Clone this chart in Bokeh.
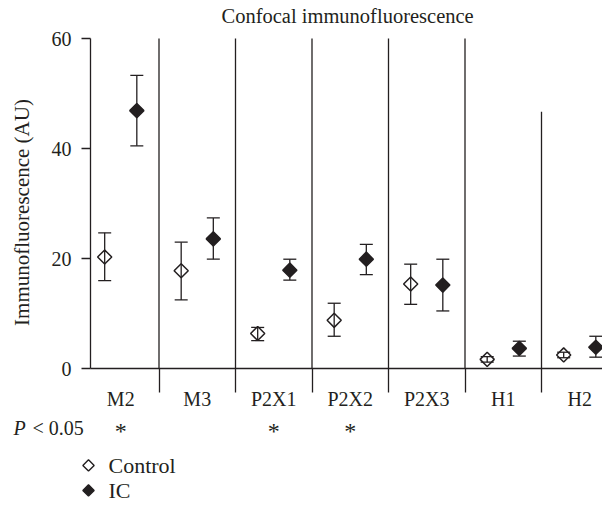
import math
from bokeh.plotting import figure
from bokeh.models import Range1d, LinearAxis, FixedTicker, Whisker, TeeHead, ColumnDataSource
from bokeh.core.properties import value
from bokeh.embed import file_html
from bokeh.resources import INLINE

# ---------------- data ----------------
categories = ["M2", "M3", "P2X1", "P2X2", "P2X3", "H1", "H2"]
control_mean = [20.3, 17.8, 6.4, 8.8, 15.4, 1.7, 2.5]
control_upper = [24.7, 23.0, 7.5, 11.9, 19.0, 2.2, 3.0]
control_lower = [16.0, 12.5, 5.1, 5.9, 11.7, 1.2, 2.0]
ic_mean = [46.9, 23.6, 17.9, 19.9, 15.2, 3.7, 3.9]
ic_upper = [53.3, 27.4, 19.9, 22.6, 19.9, 5.0, 5.9]
ic_lower = [40.5, 19.9, 16.1, 17.1, 10.5, 2.3, 2.1]
significant = [True, False, True, True, False, False, False]
y_ticks = [0, 20, 40, 60]
series_names = ["Control", "IC"]

# ---------------- layout constants ----------------
FONT = "Liberation Serif"
INK = "#231f20"
W, H = 602, 507
PX_X = 76.5        # pixels per category band
PX_Y = 5.492       # pixels per AU
AXIS_PX = 90       # pixel x of the y axis
BAND0_PX = 82      # pixel x where the first band starts
Y60 = 39           # pixel y of value 60
FRAME_TOP = 29     # height of the title panel

x_start = -BAND0_PX / PX_X
x_end = x_start + W / PX_X
axis_x = (AXIS_PX - BAND0_PX) / PX_X
y_end = 60 + (Y60 - FRAME_TOP) / PX_Y
y_start = 60 - (H - Y60) / PX_Y

def fx(px):
    return x_start + px / PX_X

def fy(py):
    return 60 - (py - Y60) / PX_Y

n = len(categories)
centers = [i + 0.5 for i in range(n)]
boundaries = [i for i in range(1, n)]
divider_tops = [60] * (n - 2) + [46.7]
DODGE = 0.21

p = figure(width=W, height=H, x_range=Range1d(x_start, x_end), y_range=Range1d(y_start, y_end),
           output_backend="svg", toolbar_location=None, x_axis_type=None, y_axis_type=None,
           min_border=0, outline_line_color=None,
           title="Confocal immunofluorescence")
p.title.text_font = FONT
p.title.text_font_size = "20.5px"
p.title.text_font_style = "normal"
p.title.text_color = INK
p.title.align = "left"
p.title.offset = 221
p.title.standoff = 4

# y axis (ticks + labels) drawn at the left edge of the first band
yaxis = LinearAxis(fixed_location=axis_x, bounds=(0, 60),
                   ticker=FixedTicker(ticks=y_ticks, minor_ticks=[]))
yaxis.major_tick_out = 9
yaxis.major_tick_in = 0
yaxis.minor_tick_out = 0
yaxis.minor_tick_in = 0
yaxis.axis_line_color = INK
yaxis.axis_line_width = 1.3
yaxis.major_tick_line_color = INK
yaxis.major_tick_line_width = 1.3
yaxis.major_label_text_font = FONT
yaxis.major_label_text_font_size = "20px"
yaxis.major_label_text_color = INK
yaxis.major_label_standoff = 10
p.add_layout(yaxis, "left")

# y axis title (separate axis so it can be centred like the reference)
ylab = LinearAxis(fixed_location=axis_x, bounds=(-3.3, 60),
                  ticker=FixedTicker(ticks=[], minor_ticks=[]),
                  axis_label="Immunofluorescence (AU)")
ylab.axis_line_color = None
ylab.major_tick_line_color = None
ylab.minor_tick_line_color = None
ylab.major_label_text_font_size = "0px"
ylab.axis_label_text_font = FONT
ylab.axis_label_text_font_size = "21px"
ylab.axis_label_text_font_style = "normal"
ylab.axis_label_text_color = INK
ylab.axis_label_standoff = 57
p.add_layout(ylab, "left")

# x axis at y = 0
xaxis = LinearAxis(fixed_location=0, bounds=(axis_x, x_end),
                   ticker=FixedTicker(ticks=centers, minor_ticks=boundaries),
                   major_label_overrides={c: name for c, name in zip(centers, categories)})
xaxis.major_tick_out = 0
xaxis.major_tick_in = 0
xaxis.minor_tick_out = 24
xaxis.minor_tick_in = 0
xaxis.axis_line_color = INK
xaxis.axis_line_width = 1.3
xaxis.minor_tick_line_color = INK
xaxis.minor_tick_line_width = 1.3
xaxis.major_label_text_font = FONT
xaxis.major_label_text_font_size = "20px"
xaxis.major_label_text_color = INK
xaxis.major_label_standoff = -5
p.add_layout(xaxis, "below")

# dividers
p.segment(x0=boundaries, y0=[0] * len(boundaries), x1=boundaries, y1=divider_tops,
          line_color=INK, line_width=1.3)

# series
specs = [
    (control_mean, control_lower, control_upper, -DODGE, "white"),
    (ic_mean, ic_lower, ic_upper, DODGE, INK),
]
for (mean, lo, hi, off, fill), name in zip(specs, series_names):
    src = ColumnDataSource(dict(x=[c + off for c in centers], mean=mean, lo=lo, hi=hi))
    p.scatter("x", "mean", source=src, marker="square", angle=math.pi / 4, size=10,
              fill_color=fill, line_color=INK, line_width=1.5)
    w = Whisker(source=src, base="x", upper="hi", lower="lo", dimension="height",
                line_color=INK, line_width=1.3, level="overlay",
                upper_head=TeeHead(size=13, line_color=INK, line_width=1.3),
                lower_head=TeeHead(size=13, line_color=INK, line_width=1.3))
    p.add_layout(w)

# significance row
row_y = fy(428)
p.text(x=[fx(13)], y=[row_y], text=["P"], text_font=value(FONT), text_font_style="italic",
       text_font_size="20px", text_baseline="middle", text_align="left", text_color=INK)
p.text(x=[fx(32)], y=[row_y], text=["< 0.05"], text_font=value(FONT),
       text_font_size="20px", text_baseline="middle", text_align="left", text_color=INK)
sig_x = [c for c, s in zip(centers, significant) if s]
p.text(x=sig_x, y=[fy(431)] * len(sig_x), text=["*"] * len(sig_x), text_font=value(FONT),
       text_font_size="24px", text_baseline="middle", text_align="center", text_color=INK)

# legend
leg_y = [fy(465), fy(490)]
p.scatter(x=[fx(88)] * 2, y=leg_y, marker="square", angle=math.pi / 4, size=8,
          fill_color=["white", INK], line_color=INK, line_width=1.4)
p.text(x=[fx(108)] * 2, y=leg_y, text=series_names, text_font=value(FONT),
       text_font_size="22px", text_baseline="middle", text_align="left", text_color=INK)

open("out.html", "w").write(file_html(p, INLINE))
